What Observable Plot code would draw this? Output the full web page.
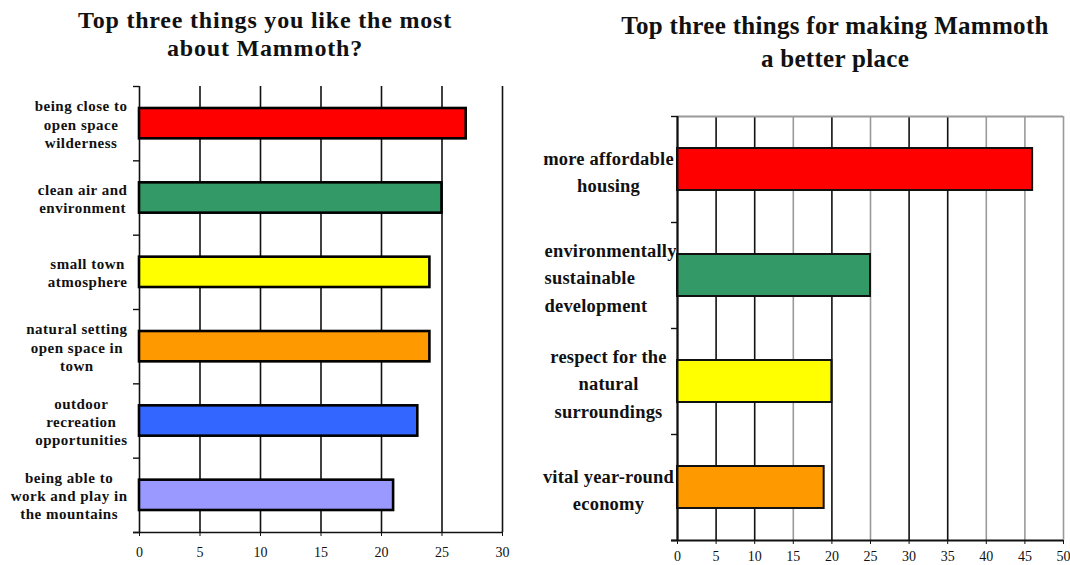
<!DOCTYPE html>
<html><head><meta charset="utf-8">
<script src="https://cdn.jsdelivr.net/npm/d3@7"></script>
<script src="https://cdn.jsdelivr.net/npm/@observablehq/plot@0.6"></script>
<style>
body{margin:0;background:#fff;}
#wrap{position:relative;width:1070px;height:565px;overflow:hidden;background:#fff;font-family:"Liberation Serif","Times New Roman",serif;}
.title{position:absolute;text-align:center;font-weight:bold;color:#111;white-space:nowrap;}
#t1{left:0;top:6px;width:530px;font-size:24px;line-height:28px;letter-spacing:0.8px;}
#t2{left:600px;top:9px;width:470px;font-size:25px;line-height:33px;letter-spacing:0.3px;}
#c1{position:absolute;left:0;top:0;}
#c2{position:absolute;left:530px;top:0;}
#c1 g.catlabel text{letter-spacing:0.5px;}
#c2 g.catlabel text{letter-spacing:0.2px;}
</style></head>
<body><div id="wrap">
<div id="c1"></div><div id="c2"></div>
<div class="title" id="t1">Top three things you like the most<br>about Mammoth?</div>
<div class="title" id="t2">Top three things for making Mammoth<br>a better place</div>
</div>
<script>
const likeLabels = [
  "being close to\nopen space\nwilderness",
  "clean air and\nenvironment",
  "small town\natmosphere",
  "natural setting\nopen space in\ntown",
  "outdoor\nrecreation\nopportunities",
  "being able to\nwork and play in\nthe mountains"
];
const likeValues = [27, 25, 24, 24, 23, 21];
const likeColors = ["#FF0000", "#339966", "#FFFF00", "#FF9900", "#3366FF", "#9999FF"];
const likeTicks = [0, 5, 10, 15, 20, 25, 30];

const betterLabels = [
  "more affordable\nhousing",
  "environmentally\nsustainable\ndevelopment",
  "respect for the\nnatural\nsurroundings",
  "vital year-round\neconomy"
];
const betterValues = [46, 25, 20, 19];
const betterColors = ["#FF0000", "#339966", "#FFFF00", "#FF9900"];
const betterTicks = [0, 5, 10, 15, 20, 25, 30, 35, 40, 45, 50];

const font = '"Liberation Serif","Times New Roman",serif';

// measure label block widths to right-align blocks against the axis (lines centred within a block)
const ctx = document.createElement("canvas").getContext("2d");
function blockWidth(label, size, ls) {
  ctx.font = `bold ${size}px "Liberation Serif"`;
  return d3.max(label.split("\n"), s => ctx.measureText(s).width + ls * s.length);
}

const likeData = likeLabels.map((label, i) => ({label, value: likeValues[i], color: likeColors[i], i}));
const nL = likeLabels.length;
const labelMarksL = likeData.map(d => Plot.text([d], {
  x: 0, y: d.i + 0.5, text: "label",
  dx: -12 - blockWidth(d.label, 15, 0.5) / 2,
  textAnchor: "middle", lineAnchor: "middle", lineHeight: 1.22,
  fontWeight: "bold", fontSize: 15, fill: "#111", className: "catlabel"
}));
const left = Plot.plot({
  width: 530, height: 565,
  marginLeft: 139, marginRight: 28, marginTop: 86, marginBottom: 33,
  x: {domain: [0, d3.max(likeTicks)], label: null},
  y: {domain: [nL, 0], label: null},
  style: {fontFamily: font, fontSize: "13px", color: "#111", background: "white"},
  marks: [
    Plot.ruleX(likeTicks, {y1: 0, y2: nL, stroke: "#111", strokeWidth: 1.6}),
    Plot.rectX(likeData, {x1: 0, x2: "value", y1: "i", y2: d => d.i + 1, insetTop: 22, insetBottom: 22, fill: "color", stroke: "#000", strokeWidth: 2.6}),
    Plot.ruleY([nL], {x1: 0, x2: d3.max(likeTicks), insetLeft: -6, stroke: "#111", strokeWidth: 1.6}),
    Plot.axisY(d3.range(nL + 1), {tickSize: 6, tickFormat: () => "", label: null, strokeWidth: 1.4}),
    Plot.axisX(likeTicks, {tickSize: 4, tickPadding: 11, label: null, fontSize: 14}),
    ...labelMarksL
  ]
});
document.getElementById("c1").appendChild(left);

const betterData = betterLabels.map((label, i) => ({label, value: betterValues[i], color: betterColors[i], i}));
const nB = betterLabels.length;
const xMaxB = d3.max(betterTicks);
const grayGrid = new Set([15, 25, 40, 45, 50]);
const right = Plot.plot({
  width: 540, height: 565,
  marginLeft: 147, marginRight: 7, marginTop: 116, marginBottom: 25,
  x: {domain: [0, xMaxB], label: null},
  y: {domain: [nB, 0], label: null},
  style: {fontFamily: font, fontSize: "13px", color: "#111", background: "white"},
  marks: [
    Plot.ruleX(betterTicks, {y1: 0, y2: nB, stroke: d => grayGrid.has(d) ? "#9a9a9a" : "#111", strokeWidth: 1.6}),
    Plot.ruleY([0], {x1: 0, x2: xMaxB, stroke: "#9a9a9a", strokeWidth: 1.8}),
    Plot.rectX(betterData, {x1: 0, x2: "value", y1: "i", y2: d => d.i + 1, insetTop: 32, insetBottom: 32, fill: "color", stroke: "#111", strokeWidth: 2}),
    Plot.ruleY([nB], {x1: 0, x2: xMaxB, insetLeft: -6, stroke: "#111", strokeWidth: 2}),
    Plot.ruleX([0], {y1: 0, y2: nB, stroke: "#111", strokeWidth: 2}),
    Plot.axisY(d3.range(nB + 1), {tickSize: 6, tickFormat: () => "", label: null, strokeWidth: 1.4}),
    Plot.axisX(betterTicks, {tickSize: 4, tickPadding: 7, label: null, fontSize: 14}),
    Plot.text(betterData.filter(d => d.i !== 1), {x: 0, y: d => d.i + 0.5, text: "label", dx: -69, textAnchor: "middle", lineAnchor: "middle", lineHeight: 1.5, fontWeight: "bold", fontSize: 18.5, fill: "#111", className: "catlabel"}),
    Plot.text(betterData.filter(d => d.i === 1), {x: 0, y: d => d.i + 0.5, text: "label", dx: -133, textAnchor: "start", lineAnchor: "middle", lineHeight: 1.5, fontWeight: "bold", fontSize: 18.5, fill: "#111", className: "catlabel"})
  ]
});
document.getElementById("c2").appendChild(right);
</script>
</body></html>
